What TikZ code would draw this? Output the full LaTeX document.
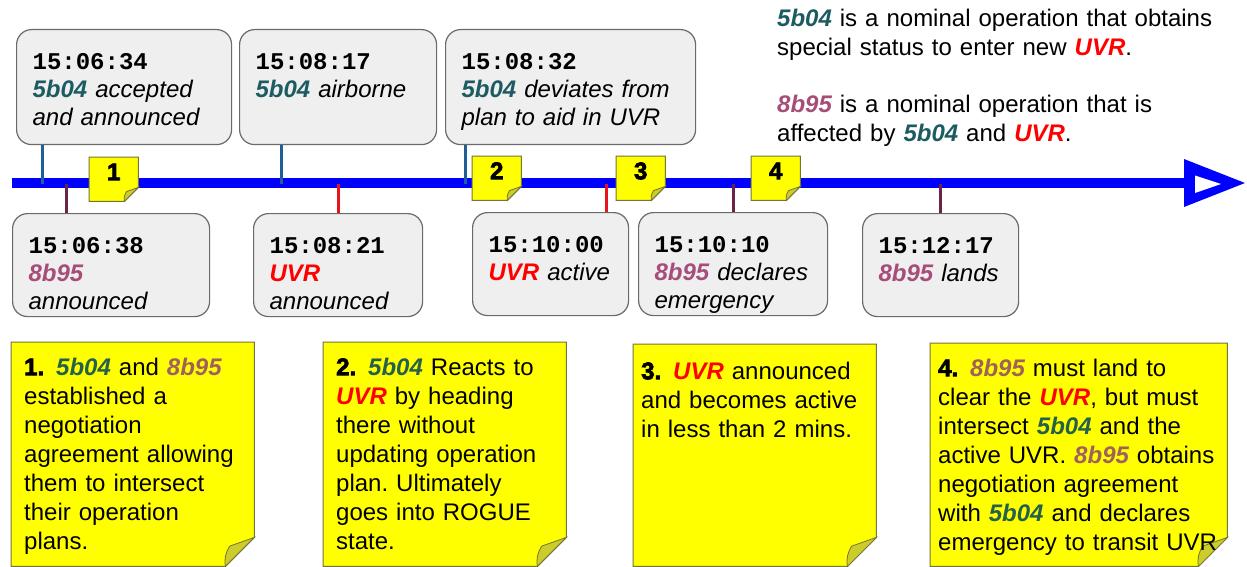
\documentclass[tikz,border=0pt]{standalone}
\usepackage{fontspec}
\setmainfont{Liberation Sans}
\setmonofont{Liberation Mono}
\newfontfamily\heavyfont{Liberation Sans Bold}[FakeBold=3]
\usepackage{xcolor}
\usetikzlibrary{backgrounds}
\frenchspacing
\definecolor{tl}{HTML}{0000ff}
\definecolor{boxbg}{HTML}{efefef}
\definecolor{boxln}{HTML}{6a6a6a}
\definecolor{noteyel}{HTML}{ffff00}
\definecolor{foldyel}{HTML}{cccc2a}
\definecolor{noteln}{HTML}{74743c}
\definecolor{opteal}{HTML}{1d5b63}
\definecolor{opmauve}{HTML}{a64d79}
\definecolor{notegreen}{HTML}{25604a}
\definecolor{notemauve}{HTML}{a0605c}
\definecolor{uvrred}{HTML}{ff0000}
\definecolor{tkblue}{HTML}{1f5f99}
\definecolor{tkmaroon}{HTML}{6b2346}
\definecolor{tkred}{HTML}{e8141c}

\newcommand{\evfont}{\fontsize{24}{28}\selectfont\itshape}
\newcommand{\notefont}{\fontsize{24}{29}\selectfont}
\newcommand{\stamp}[1]{{\ttfamily\bfseries\upshape #1}}
\newcommand{\opfive}[1][opteal]{\textcolor{#1}{\bfseries\itshape 5b04}}
\newcommand{\opeight}[1][opmauve]{\textcolor{#1}{\bfseries\itshape 8b95}}
\newcommand{\uvr}{\textcolor{uvrred}{\bfseries\itshape UVR}}
% sticky note behind a node: #1 node, #2 fold size
\newcommand{\sticky}[2]{%
  \filldraw[stickybody] (#1.north west) -- (#1.north east) -- ([yshift=#2]#1.south east)
    -- ([xshift=-#2]#1.south east) -- (#1.south west) -- cycle;
  \filldraw[stickyfold] ([yshift=#2]#1.south east) -- ([xshift=-#2]#1.south east)
    to[bend left=20] ([xshift=-0.85*#2,yshift=0.7*#2]#1.south east) -- cycle;
}

\tikzset{
  evbox/.style={draw=boxln, fill=boxbg, line width=1.2pt, rounded corners=15pt,
    anchor=north west, inner xsep=16pt, inner ysep=0pt, align=left,
    text height=40pt, font=\evfont},
  up/.style={text depth=75pt},
  down/.style={text depth=63pt},
  note/.style={anchor=north west, inner xsep=13pt, inner ysep=0pt, align=left,
    text height=33pt, text depth=191pt, font=\notefont},
  flag/.style={anchor=north west, inner sep=0pt, minimum width=49pt,
    text height=23pt, text depth=21pt, font=\heavyfont\fontsize{24}{24}\selectfont},
  info/.style={anchor=base west, inner sep=0pt, align=left, text width=460pt, font=\notefont},
  stickybody/.style={fill=noteyel, draw=noteln, line width=1pt},
  stickyfold/.style={fill=foldyel, draw=noteln, line width=0.8pt},
  tick/.style={line width=3pt}
}

\begin{document}
\begin{tikzpicture}[x=1pt,y=-1pt]
  \useasboundingbox (0,0) rectangle (1247,567);
  % timeline
  \coordinate (tl0) at (12,183);
  \coordinate (tl1) at (1184,183);
  \coordinate (tip) at (1245,183);
  \foreach \n/\x in {A/42,B/281,C/465,D/66,E/338,F/606,G/733,H/940}
    \coordinate (t\n) at (\x,184);

  % events above the line
  \node[evbox,up,text width=183pt] (evA) at (16,29) {\stamp{15:06:34}\\\opfive{} accepted\\and announced};
  \node[evbox,up,text width=165pt] (evB) at (239,29) {\stamp{15:08:17}\\\opfive{} airborne};
  \node[evbox,up,text width=218pt] (evC) at (445,29) {\stamp{15:08:32}\\\opfive{} deviates from\\plan to aid in UVR};
  % events below the line
  \node[evbox,down,text width=165pt] (evD) at (12,213) {\stamp{15:06:38}\\\opeight{}\\announced};
  \node[evbox,down,text width=137pt] (evE) at (253,213) {\stamp{15:08:21}\\\uvr{}\\announced};
  \node[evbox,down,text width=124pt] (evF) at (472,212) {\stamp{15:10:00}\\\uvr{} active};
  \node[evbox,down,text width=157pt] (evG) at (638,212) {\stamp{15:10:10}\\\opeight{} declares\\emergency};
  \node[evbox,down,text width=124pt] (evH) at (862,213) {\stamp{15:12:17}\\\opeight{} lands};

  % flags on the line
  \node[flag] (fl1) at (89,157) {1};
  \node[flag] (fl2) at (472,156) {2};
  \node[flag] (fl3) at (616,156) {3};
  \node[flag] (fl4) at (751,156) {4};

  % legend
  \node[info] (info1) at (777,27) {\opfive{} is a nominal operation that obtains\\special status to enter new \uvr.};
  \node[info] (info2) at (777,113) {\opeight{} is a nominal operation that is\\affected by \opfive{} and \uvr.};

  % notes
  \node[note,text width=217pt] (nt1) at (11,342) {{\heavyfont 1.}\hspace{.5em}\opfive[notegreen] and \opeight[notemauve]\\established a\\negotiation\\agreement allowing\\them to intersect\\their operation\\plans.};
  \node[note,text width=217pt] (nt2) at (323,342) {{\heavyfont 2.}\hspace{.5em}\opfive[notegreen] Reacts to\\\uvr{} by heading\\there without\\updating operation\\plan. Ultimately\\goes into ROGUE\\state.};
  \node[note,inner xsep=8pt,text width=227pt,text height=35pt,text depth=187pt] (nt3) at (633,344) {{\heavyfont 3.}\hspace{.5em}\uvr{} announced\\and becomes active\\in less than 2 mins.};
  \node[note,inner xsep=8pt,text width=281pt,text depth=190pt] (nt4) at (930,343) {{\heavyfont 4.}\hspace{.5em}\opeight[notemauve] must land to\\clear the \uvr, but must\\intersect \opfive[notegreen] and the\\active UVR. \opeight[notemauve] obtains\\negotiation agreement\\with \opfive[notegreen] and declares\\emergency to transit UVR};

  \begin{scope}[on background layer]
    \fill[white] (0,0) rectangle (1247,567);
    \draw[tl,line width=9.5pt] (tl0) -- (tl1);
    \fill[tl] ([yshift=24pt]tl1) -- (tip) -- ([yshift=-24pt]tl1) -- cycle;
    \fill[white] (1195,175.5) -- (1221,184) -- (1195,193) -- cycle;
    % ticks
    \foreach \n in {A,B,C}
      \draw[tick,tkblue] (ev\n.south -| t\n) -- (t\n);
    \foreach \n/\c in {D/tkmaroon,E/tkred,F/tkred,G/tkmaroon,H/tkmaroon}
      \draw[tick,\c] (t\n) -- (t\n |- ev\n.north);
    % sticky shapes
    \foreach \n in {fl1,fl2,fl3,fl4}
      {\sticky{\n}{14pt}}
    \foreach \n in {nt1,nt2,nt3,nt4}
      {\sticky{\n}{29pt}}
  \end{scope}
\end{tikzpicture}
\end{document}
